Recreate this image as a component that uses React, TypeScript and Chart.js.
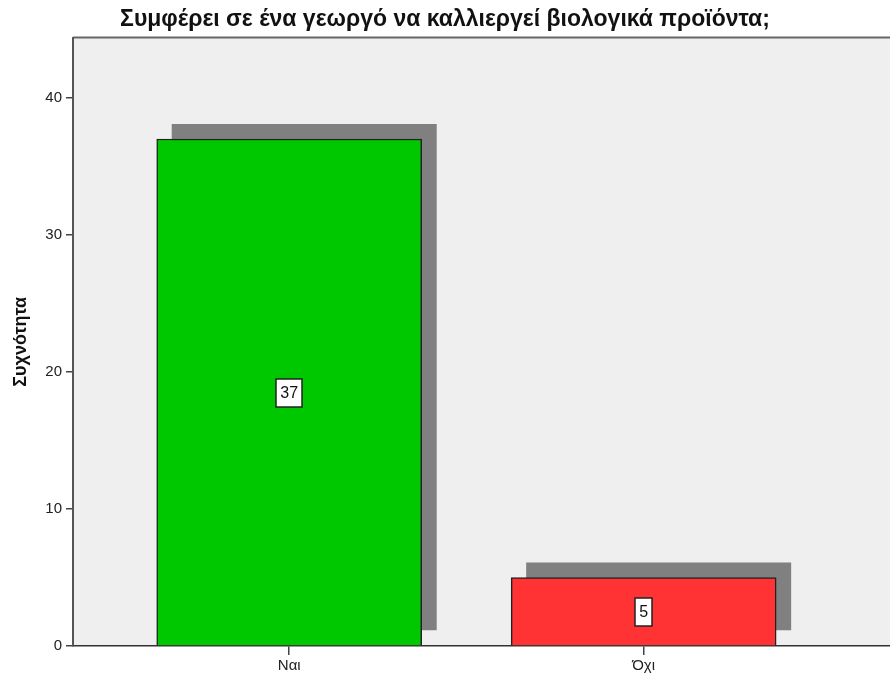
import React, { useEffect, useRef } from 'react';
import { Chart, registerables } from 'chart.js';

Chart.register(...registerables);

const chartTitle = 'Συμφέρει σε ένα γεωργό να καλλιεργεί βιολογικά προϊόντα;';
const yAxisTitle = 'Συχνότητα';
const categories = ['Ναι', 'Όχι'];
const counts = [37, 5];
const barColors = ['#00c800', '#ff3333'];
const yTickValues = [0, 10, 20, 30, 40];

const FONT = "'Liberation Sans', Arial, sans-serif";
const SHADOW = 15;

const backgroundPlugin = {
  id: 'plotBackground',
  beforeDraw(chart: any) {
    const { ctx, chartArea } = chart;
    ctx.save();
    ctx.fillStyle = '#efefef';
    ctx.fillRect(chartArea.left, chartArea.top, chartArea.right - chartArea.left, chartArea.bottom - chartArea.top);
    ctx.strokeStyle = '#666666';
    ctx.lineWidth = 2;
    ctx.beginPath();
    ctx.moveTo(chartArea.left, chartArea.top);
    ctx.lineTo(chartArea.right, chartArea.top);
    ctx.stroke();
    ctx.restore();
  },
};

const shadowPlugin = {
  id: 'barShadow',
  beforeDatasetsDraw(chart: any) {
    const { ctx } = chart;
    const meta = chart.getDatasetMeta(0);
    ctx.save();
    ctx.fillStyle = '#808080';
    meta.data.forEach((bar: any) => {
      const p = bar.getProps(['x', 'y', 'base', 'width'], true);
      ctx.fillRect(p.x - p.width / 2 + SHADOW, p.y - SHADOW, p.width, p.base - p.y);
    });
    ctx.restore();
  },
};

const labelPlugin = {
  id: 'boxLabels',
  afterDatasetsDraw(chart: any) {
    const { ctx } = chart;
    const meta = chart.getDatasetMeta(0);
    ctx.save();
    ctx.font = `16px ${FONT}`;
    ctx.textAlign = 'center';
    ctx.textBaseline = 'middle';
    meta.data.forEach((bar: any, i: number) => {
      const p = bar.getProps(['x', 'y', 'base'], true);
      const text = String(counts[i]);
      const cx = p.x;
      const cy = (p.y + p.base) / 2;
      const w = Math.round(ctx.measureText(text).width + 8);
      const h = 28;
      const bx = Math.round(cx - w / 2);
      const by = Math.round(cy - h / 2) + 1;
      ctx.fillStyle = '#ffffff';
      ctx.fillRect(bx, by, w, h);
      ctx.strokeStyle = '#222222';
      ctx.lineWidth = 1.5;
      ctx.strokeRect(bx, by, w, h);
      ctx.fillStyle = '#111111';
      ctx.fillText(text, cx, by + h / 2 + 1);
    });
    ctx.restore();
  },
};

export default function App() {
  const canvasRef = useRef<HTMLCanvasElement | null>(null);

  useEffect(() => {
    if (!canvasRef.current) return;
    const chart = new Chart(canvasRef.current, {
      type: 'bar',
      data: {
        datasets: [
          {
            data: counts.map((v, i) => ({ x: i, y: v })),
            backgroundColor: barColors,
            borderColor: '#222222',
            borderWidth: 1.5,
            barThickness: 265,
          },
        ],
      },
      plugins: [backgroundPlugin, shadowPlugin, labelPlugin],
      options: {
        animation: false,
        responsive: true,
        maintainAspectRatio: false,
        layout: { padding: 0 },
        plugins: {
          legend: { display: false },
          tooltip: { enabled: false },
          title: {
            display: true,
            text: chartTitle,
            color: '#111111',
            font: { family: FONT, size: 23, weight: 'bold' },
            padding: { top: 6, bottom: 4 },
          },
        },
        scales: {
          x: {
            type: 'linear',
            offset: false,
            min: -0.61,
            max: 1.695,
            afterBuildTicks: (scale: any) => {
              scale.ticks = categories.map((_, i) => ({ value: i }));
            },
            afterFit: (scale: any) => {
              scale.height = 31;
            },
            ticks: {
              callback: (v: any) => categories[v] ?? '',
              color: '#222222',
              font: { family: FONT, size: 15 },
              padding: 2,
              maxRotation: 0,
              autoSkip: false,
            },
            grid: {
              display: true,
              offset: false,
              drawOnChartArea: false,
              drawTicks: true,
              tickLength: 9,
              color: '#444444',
              lineWidth: 1.5,
            },
            border: { display: true, color: '#333333', width: 1.5 },
          },
          y: {
            type: 'linear',
            min: 0,
            max: 44.4,
            afterBuildTicks: (scale: any) => {
              scale.ticks = yTickValues.map((v) => ({ value: v }));
            },
            afterFit: (scale: any) => {
              scale.width = 73;
            },
            ticks: {
              color: '#222222',
              font: { family: FONT, size: 15 },
              padding: 4,
            },
            grid: {
              display: true,
              drawOnChartArea: false,
              drawTicks: true,
              tickLength: 7,
              color: '#444444',
              lineWidth: 1.5,
            },
            border: { display: true, color: '#555555', width: 2 },
            title: {
              display: true,
              text: yAxisTitle,
              color: '#111111',
              font: { family: FONT, size: 18, weight: 'bold' },
              padding: { top: 10, bottom: 0 },
            },
          },
        },
      },
    } as any);
    return () => chart.destroy();
  }, []);

  return (
    <div style={{ position: 'fixed', left: 0, top: 0, width: 890, height: 677, background: '#ffffff' }}>
      <canvas ref={canvasRef} />
    </div>
  );
}
